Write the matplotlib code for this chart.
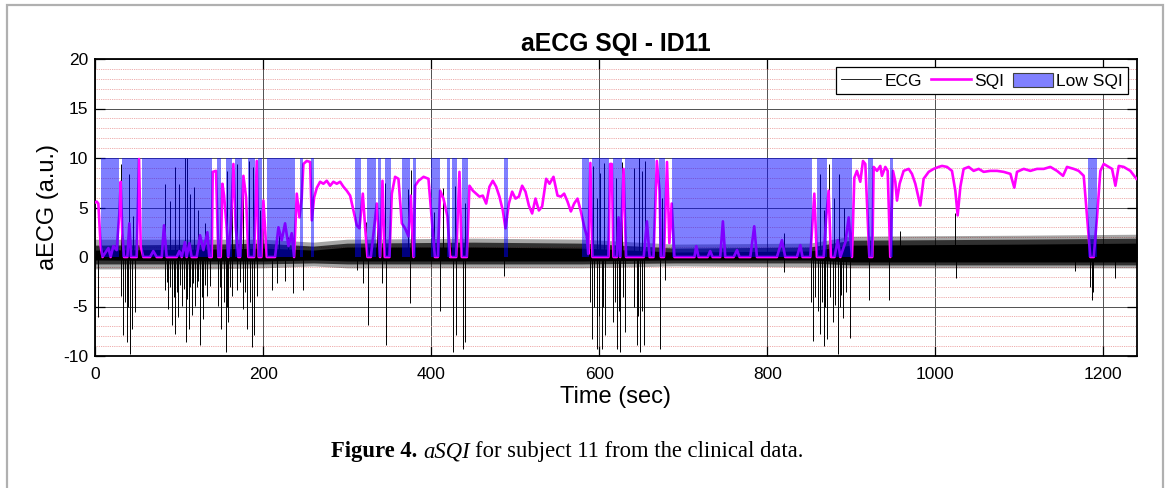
import numpy as np
import matplotlib
matplotlib.use("Agg")
import matplotlib.pyplot as plt
from matplotlib.lines import Line2D
from matplotlib.patches import Patch, Rectangle
from matplotlib.ticker import MultipleLocator

# ---------------- data ----------------
sqi_t = [0, 2, 4, 6.7, 9, 12, 16, 18.6, 21.8, 25.8, 29, 30.6, 32.5, 34.5, 38.5, 40.9, 42.9,
         49.6, 52.4, 54.4, 57.5, 65.5, 69.4, 73.4, 79.4, 82.1, 85.3, 97.2, 100.4, 103.2, 107,
         109, 112.3, 115, 121, 125, 129, 133.7, 136, 138.9,
         140.1, 144, 146.8, 149.6, 151.6, 153.6, 156.7, 158.7, 161.5, 164.7, 167.5, 170.6,
         172.6, 176.6, 179.8, 182.5, 189.3, 192.5, 194.8, 198, 200.4, 204.4, 214.3, 218.3,
         222.2, 226.2, 230.2, 234.1, 236.9, 240.1, 243.3, 246, 248, 252, 256, 258, 260.7,
         264, 267.9, 271.8, 275.8, 279.8, 283.7, 287.7, 291.7, 295.6, 299.6, 303.6, 307.5,
         311.5, 314.7, 318.7, 321.4, 324.2, 328.2, 332.1, 335.3, 339.3, 342.1, 344.8, 350.4,
         353.2, 357.1, 361.1, 365.1, 369, 373, 375.8, 379, 381, 385, 391, 396.8, 402, 404.5,
         408, 410.7, 414.7, 419.4, 422.6, 429.8, 433.7, 436.5, 442.5, 445.6, 449.6, 453.6,
         457.5, 461.5, 465.5, 469.4, 473.4, 477.4, 481.3, 485.3, 488.5, 492.5, 496.4, 500.4,
         504.4, 508.3, 512.3, 516.3, 520.2, 524.2, 528.2, 532.1, 536.9, 540.9, 545.6, 550.4,
         554.4, 558.3, 562.3, 566.3, 570.2, 574.2, 578.2, 582.1, 585.3, 587, 589.5, 592,
         611, 613, 615, 617, 621, 623, 625, 629, 632, 653, 656.8, 660, 664.6, 668.6, 671.8,
         673.4, 677, 680.7, 683.5, 686.3, 689.5, 713.3, 715.5, 718.3, 729, 732.1, 735, 744,
         747.2, 750, 760, 764, 767, 779.8, 784.5, 787.7, 811.5, 817.5, 821.4, 835.3, 839.3,
         842, 851.2, 856, 859.1, 867.1, 870.2, 873, 875.8, 880, 883.9, 887, 893, 896.9,
         900.8, 903.6, 906.7, 910.7, 913.9, 916.7, 919, 921.5, 925,
         926.6, 930.6, 934.5, 936.5, 940.5, 943.3, 946.4, 949.6, 952.4, 954.4, 957.5, 962.3,
         968.3, 972.2, 976.2, 982.1, 986.1, 992.1, 998, 1004, 1008, 1013.9, 1019.8, 1023.8,
         1026.6, 1029.8, 1033.7, 1039.7, 1045.6, 1051.6, 1057.5, 1065.5, 1073.4, 1081.3,
         1089.3, 1094, 1097.2, 1105.2, 1113.1, 1121, 1129, 1136.9, 1144.8, 1152, 1156.7,
         1164.7, 1170.6, 1176.6, 1180.6, 1184.5, 1188.5, 1192.5, 1196.4, 1200.4, 1206.3,
         1210.3, 1214.3, 1218.3, 1224.2, 1232.1, 1239.3]
sqi_v = [5.5, 5.6, 5.4, 1.1, 0, 0.4, 0.9, 0, 1.1, 0.7, 4.4, 7.6, 2.4, 0, 0, 3.4, 0,
         0, 9.9, 1.1, 0, 0, 0.6, 0, 0, 3.2, 0, 0, 0.6, 0, 1.5,
         0, 1.4, 0, 0, 2.2, 0.7, 2.5, 0, 0,
         8.6, 8.7, 0, 0, 7.4, 6.2, 3.0, 0, 3.0, 9.4, 3.0, 0,
         0, 8.2, 6.0, 0, 0, 9.7, 0, 0, 5.7, 0, 0, 3.0,
         1.7, 3.4, 1.1, 2.4, 0, 6.4, 4.0, 6.0, 9.4, 9.7, 9.6, 3.7, 6.0,
         7.0, 7.6, 7.4, 7.7, 7.2, 7.6, 7.4, 7.6, 7.1, 6.7, 6.2, 4.7,
         3.2, 2.9, 6.4, 3.1, 0, 0, 2.9, 5.4, 0, 7.7, 0, 0,
         6.4, 8.1, 7.9, 3.4, 2.9, 2.1, 6.2, 0, 7.2, 7.7, 8.1, 7.9, 2.5, 0,
         0, 6.7, 5.9, 4.1, 0, 0, 8.6, 0, 0, 7.2, 6.7, 6.4,
         6.1, 6.2, 5.4, 7.1, 7.7, 7.1, 6.1, 4.7, 2.9, 5.4, 6.6, 5.9,
         6.1, 7.2, 6.6, 5.2, 4.4, 5.9, 4.7, 5.1, 7.9, 7.4, 8.1, 6.2,
         6.1, 6.4, 5.6, 4.6, 5.4, 5.9, 4.6, 3.1, 2.1, 0.3, 9.5, 0,
         0, 9.4, 9.4, 0, 0, 4.0, 0, 8.9, 0, 0, 3.6, 0, 0, 9.7, 6.7,
         0, 0, 9.6, 1.4, 5.4, 0, 0, 1.1, 0, 0, 0.6, 0, 0,
         3.6, 0, 0, 0.7, 0, 0, 3.1, 0, 0, 1.7, 0, 0, 1.2,
         0, 0, 6.4, 0, 0, 4.0, 6.7, 0, 0, 1.7, 0, 1.5, 4.0,
         0, 8.0, 8.7, 7.6, 9.7, 9.4, 5.0, 0, 0,
         9.1, 8.7, 9.2, 8.2, 9.1, 8.7, 0, 8.7, 7.6, 5.7, 7.4, 8.7,
         8.9, 8.4, 7.4, 5.2, 7.9, 8.6, 8.9, 9.1, 9.2, 9.1, 8.7, 6.7,
         4.2, 7.1, 8.9, 9.1, 8.7, 8.9, 8.6, 8.7, 8.7, 8.6,
         8.4, 7.0, 8.6, 8.9, 8.7, 8.9, 8.9, 9.1, 8.7, 8.2, 9.1,
         8.9, 8.7, 8.2, 4.1, 0, 0, 4.1, 8.7, 9.4, 9.1,
         8.9, 7.2, 9.2, 9.1, 8.7, 7.9]

low_start = [7.1, 32.5, 55.6, 145.5, 155.5, 166.5, 181.5, 194, 205, 244, 257,
             309.5, 323.4, 337.3, 345.2, 365.1, 379, 400, 419.4, 425.4, 436.5, 486.9,
             579.3, 591.3, 617, 631, 671.5, 686.5, 859, 877, 919.5, 946.5, 1181.5]
low_end = [28.9, 51.6, 138.9, 150.5, 162.5, 174.5, 190.5, 198.5, 238, 248, 261,
           316.7, 334.5, 340.5, 352, 375, 381.7, 410, 422.6, 431.3, 444.4, 491.7,
           588, 612, 627, 667, 678.5, 853, 871, 901, 926, 949.5, 1192.5]

# ECG noise band (outer / middle / core envelope) at a few time knots
ecg_band_t = [0, 140, 200, 260, 300, 450, 580, 690, 850, 900, 1100, 1240]
ecg_outer_hi = [1.8, 1.8, 1.8, 1.5, 1.8, 1.9, 1.8, 1.3, 1.4, 2.1, 2.2, 2.3]
ecg_mid_hi = [1.2, 1.3, 1.4, 1.1, 1.4, 1.5, 1.4, 0.9, 1.0, 1.7, 1.8, 1.9]
ecg_core_hi = [0.7, 0.8, 0.9, 0.7, 1.0, 1.0, 0.9, 0.5, 0.6, 1.2, 1.3, 1.4]
ecg_core_lo = [-0.3, -0.4, -0.4, -0.3, -0.4, -0.4, -0.4, -0.3, -0.3, -0.5, -0.5, -0.5]
ecg_mid_lo = [-0.7, -0.7, -0.7, -0.6, -0.7, -0.7, -0.7, -0.6, -0.6, -0.8, -0.8, -0.8]
ecg_outer_lo = [-1.2, -1.2, -1.1, -0.9, -1.1, -1.1, -1.1, -0.9, -1.0, -1.1, -1.1, -1.1]

# ECG artefact spikes (time, extreme value)
ecg_spike_t = [4, 30.6, 33.7, 35.5, 37.7, 39.5, 41.7, 44.4, 47.6, 83.3, 85.5, 87.3, 89.5,
               91.3, 93.5, 95.2, 97.5, 99.2, 101.5, 103.2, 105.5, 108, 110, 111.9, 113.5,
               115, 117, 119, 121, 123, 125, 127, 129, 131, 133.7, 136.9, 146.8, 148.5,
               150, 153, 155.5, 157, 158.7, 160.5, 162.7, 168.7, 172, 176.6, 179, 181.3,
               184, 186.5, 189.3, 192.5, 210.3, 216.3, 226.2, 236.1, 248, 311.5, 319.5,
               325.4, 341.3, 346, 375, 410.7, 426.6, 429.8, 438.5, 440.5, 486.9, 589,
               591.3, 594, 597.2, 600, 603.2, 605, 607.1, 617, 619, 621, 623, 625, 628,
               630.9, 642, 644.8, 646.5, 648.8, 650.5, 652.8, 672.6, 678.6, 819.4, 852,
               854.4, 857, 860, 862.3, 865, 867.1, 869, 871, 875, 878.2, 881, 883.9, 886,
               888, 890.1, 894, 898, 920.6, 944.4, 1024.6, 1166.7, 1184.5, 1186.5, 1188,
               1213.5,
               30.9, 40.9, 44.8, 83.3, 89.3, 95.2, 100.4, 107.1, 109, 113, 118.2, 123, 131,
               156.7, 162.7, 168.7, 176.6, 183.7, 188.5, 196.4, 219, 230, 322, 336, 345,
               372, 376, 404, 414, 428, 440, 593, 597, 601, 606, 615, 620, 627, 641, 646.8,
               650.8, 654.8, 675, 819.4, 862.3, 867, 873, 879, 884.9, 891, 958, 1023.8]
ecg_spike_v = [-6.1, -3.9, -7.9, -4.5, -8.6, -5.0, -9.8, -7.3, -5.6, -3.3, -2.5, -5.3, -3.0,
               -6.9, -4.0, -7.8, -3.5, -6.1, -2.8, -4.9, -3.2, -8.6, -4.2, -7.3, -3.0,
               -5.9, -2.6, -4.9, -3.0, -2.4, -8.9, -4.0, -6.3, -2.8, -3.9, -2.9, -4.9, -3.0,
               -7.3, -4.5, -9.6, -5.0, -6.6, -3.0, -3.9, -3.3, -2.5, -5.3, -3.5, -7.3,
               -4.5, -9.1, -7.9, -3.9, -3.3, -2.6, -2.4, -3.6, -3.3, -1.3, -2.6,
               -6.9, -2.6, -8.9, -4.6, -5.5, -9.6, -7.9, -9.3, -8.6, -1.9, -4.5,
               -8.3, -5.0, -9.3, -6.0, -9.3, -5.0, -7.9, -6.6, -4.5, -9.3, -5.5, -9.6, -4.0,
               -7.6, -5.0, -8.9, -6.0, -9.6, -5.5, -8.9, -9.3, -2.3, -1.5, -4.5,
               -8.5, -4.0, -5.5, -7.8, -4.5, -9.0, -5.0, -8.3, -4.0, -6.6, -4.8, -9.8, -5.0,
               -3.8, -6.2, -3.5, -8.2, -4.3, -4.3, -2.1, -1.4, -3.0, -4.3, -3.5,
               -2.1,
               9.4, 8.4, 4.1, 7.4, 5.7, 9.1, 7.4, 10, 10, 6.4, 7.1, 4.7, 3.4,
               8.7, 6.4, 9.4, 7.7, 9.7, 9.1, 4.7, 2.2, 2.0, 3.5, 5.5, 7.5,
               6.9, 8.8, 4.5, 7.0, 7.2, 5.5, 9.2, 6.0, 8.5, 9.5, 8.0, 8.0, 9.6, 9.0, 10,
               8.7, 9.7, 6.0, 2.4, 8.4, 4.7, 9.4, 6.0, 8.4, 5.0, 2.6, 4.4]

x_ticks = [0, 200, 400, 600, 800, 1000, 1200]
y_ticks = [-10, -5, 0, 5, 10, 15, 20]

# ---------------- figure ----------------
W, H = 1167, 488
fig = plt.figure(figsize=(W / 100, H / 100), dpi=100)
fig.patch.set_facecolor("white")
ax = fig.add_axes([95 / W, 1 - 356 / H, (1137 - 95) / W, (356 - 59) / H])

sans = ["Liberation Sans", "DejaVu Sans"]
serif = ["Liberation Serif", "DejaVu Serif"]

# ECG
ax.fill_between(ecg_band_t, ecg_outer_lo, ecg_outer_hi, color="black", alpha=0.35,
                lw=0, zorder=2)
ax.fill_between(ecg_band_t, ecg_mid_lo, ecg_mid_hi, color="black", alpha=0.7,
                lw=0, zorder=2.05)
ax.fill_between(ecg_band_t, ecg_core_lo, ecg_core_hi, color="black", lw=0, zorder=2.1)
ax.vlines(ecg_spike_t, 0, ecg_spike_v, color="black", lw=0.7, zorder=2.2)
# SQI
ax.plot(sqi_t, sqi_v, color=(1, 0, 1), lw=1.9, zorder=3, solid_joinstyle="round")
# Low-SQI patches
for s, e in zip(low_start, low_end):
    ax.fill_between([s, e], [0, 0], [10, 10], color=(0, 0, 1), alpha=0.5, lw=0, zorder=4)

ax.set_xlim(0, 1240)
ax.set_ylim(-10, 20)
ax.set_xticks(x_ticks)
ax.set_yticks(y_ticks)
ax.set_xticklabels([str(v) for v in x_ticks], fontfamily=sans)
ax.set_yticklabels([str(v) for v in y_ticks], fontfamily=sans)
ax.yaxis.set_minor_locator(MultipleLocator(1))
ax.set_axisbelow(True)
ax.grid(which="major", color="#505050", lw=0.7, zorder=0)
ax.grid(which="minor", axis="y", color="#e89090", lw=0.6, linestyle=(0, (1, 1.2)), zorder=0)
ax.tick_params(which="major", direction="in", length=7, width=0.9, top=True, right=True,
               labelsize=12.5, pad=5, colors="black")
ax.tick_params(axis="x", which="major", pad=8)
ax.tick_params(which="minor", length=0)
for sp in ax.spines.values():
    sp.set_linewidth(1.3)
    sp.set_color("black")

ax.set_title("aECG SQI - ID11", fontfamily=sans, fontweight="bold", fontsize=17.8, pad=6)
ax.set_xlabel("Time (sec)", fontfamily=sans, fontsize=17, labelpad=3)
ax.set_ylabel("aECG (a.u.)", fontfamily=sans, fontsize=17, labelpad=3)

handles = [Line2D([], [], color="black", lw=0.6),
           Line2D([], [], color=(1, 0, 1), lw=1.9),
           Patch(facecolor=(0.5, 0.5, 1.0), edgecolor="#404040", lw=0.8)]
leg = ax.legend(handles, ["ECG", "SQI", "Low SQI"], loc="upper right",
                bbox_to_anchor=(0.9915, 0.972), ncol=3, frameon=True, fancybox=False,
                framealpha=1, edgecolor="black", handlelength=2.3, handleheight=0.9,
                handletextpad=0.2, columnspacing=0.5, borderpad=0.3, borderaxespad=0,
                prop={"family": sans, "size": 12.5})
leg.get_frame().set_linewidth(0.9)
leg.set_zorder(10)

# frame around the whole figure
fig.add_artist(Rectangle((7 / W, -0.02), (1163 - 7) / W, (488 - 4.5) / H + 0.02,
                         transform=fig.transFigure, fill=False, edgecolor="#b0b0b0", lw=1.6))

# caption
r = fig.canvas.get_renderer()
cy = 1 - 452 / H
x = 331
parts = [("Figure 4.", "bold", "normal", 6), ("aSQI", "normal", "italic", 5),
         ("for subject 11 from the clinical data.", "normal", "normal", 0)]
for txt, wgt, sty, gap in parts:
    t = fig.text(x / W, cy, txt, fontfamily=serif, fontweight=wgt, fontstyle=sty,
                 fontsize=16.3, va="center", ha="left")
    bb = t.get_window_extent(r)
    x = bb.x1 + gap

fig.savefig("out.png", dpi=100, facecolor="white")
